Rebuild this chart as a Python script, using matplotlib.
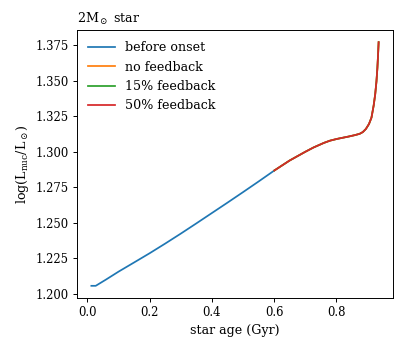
import matplotlib
matplotlib.use("Agg")
import matplotlib.pyplot as plt

plt.rcParams['font.family'] = ['DejaVu Serif']
plt.rcParams['mathtext.fontset'] = 'dejavuserif'
plt.rcParams['font.size'] = 9.1
plt.rcParams['xtick.labelsize'] = 8.4
plt.rcParams['ytick.labelsize'] = 8.4
plt.rcParams['xtick.major.size'] = 3.0
plt.rcParams['ytick.major.size'] = 3.0
plt.rcParams['xtick.major.pad'] = 2.9
plt.rcParams['ytick.major.pad'] = 2.9
plt.rcParams['axes.labelpad'] = 3.3
plt.rcParams['axes.linewidth'] = 0.7
plt.rcParams['xtick.major.width'] = 0.7
plt.rcParams['ytick.major.width'] = 0.7

# before onset (blue)
age_before = [0.013, 0.027, 0.06, 0.1005, 0.15, 0.2, 0.25, 0.3, 0.35, 0.4, 0.45, 0.5, 0.55, 0.601]
lum_before = [1.2056, 1.2056, 1.2100, 1.2156, 1.2220, 1.2285, 1.2353, 1.2423, 1.2495, 1.2568, 1.2641, 1.2715, 1.2790, 1.2868]

# after onset (feedback runs, overlapping)
age_after = [0.601, 0.65, 0.70, 0.727, 0.76, 0.78, 0.802, 0.84, 0.86, 0.875, 0.885, 0.895, 0.905, 0.913, 0.920, 0.925, 0.929, 0.932, 0.934, 0.936]
lum_after = [1.2868, 1.2938, 1.2999, 1.3030, 1.3062, 1.3078, 1.3090, 1.3107, 1.3117, 1.3126, 1.3138, 1.3160, 1.3195, 1.3240, 1.3325, 1.3405, 1.3495, 1.3590, 1.3675, 1.3771]

labels = ["before onset", "no feedback", "15% feedback", "50% feedback"]

fig = plt.figure(figsize=(4.07, 3.49), dpi=100)
ax = fig.add_axes([77/407, 1 - 298/349, (393-77)/407, (298-30)/349])

lw = 1.25
ax.plot(age_before, lum_before, color='#1f77b4', lw=lw, label=labels[0])
ax.plot(age_after, lum_after, color='#ff7f0e', lw=lw, label=labels[1])
ax.plot(age_after, lum_after, color='#2ca02c', lw=lw, label=labels[2])
ax.plot(age_after, lum_after, color='#d62728', lw=lw, label=labels[3])

ax.set_xticks([0.0, 0.2, 0.4, 0.6, 0.8])
ax.set_yticks([1.200, 1.225, 1.250, 1.275, 1.300, 1.325, 1.350, 1.375])
ax.set_xlabel("star age (Gyr)")
ax.set_ylabel(r"log(L$_{\rm nuc}$/L$_\odot$)")
ax.set_title(r"2M$_\odot$ star", loc='left', fontsize=9.1, pad=5)
ax.legend(loc='upper left', frameon=False, handlelength=2.1)

fig.savefig("out.png", dpi=100)
